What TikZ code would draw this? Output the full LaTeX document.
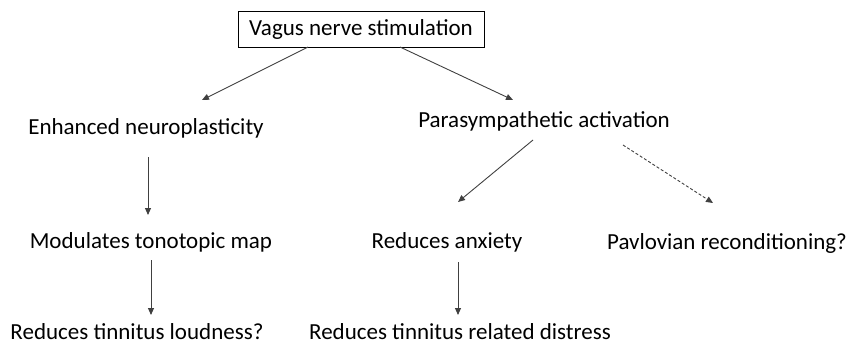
\documentclass[tikz,border=0pt]{standalone}
\usepackage{fontspec}
\setmainfont{Carlito}
\usetikzlibrary{arrows.meta}

\tikzset{
  lbl/.style={inner sep=0pt, font=\fontsize{23}{27}\selectfont},
  arr/.style={draw=black!75, line width=0.9pt, -{Triangle[length=7pt,width=6pt]}}
}

\begin{document}
\begin{tikzpicture}[x=1pt,y=-1pt]
  \useasboundingbox (0,0) rectangle (849,346);
  \node[lbl, draw, line width=1pt, minimum width=246pt, minimum height=36pt] (vns) at (361,29) {Vagus nerve stimulation};
  \node[lbl] (enh)  at (146,128) {Enhanced neuroplasticity};
  \node[lbl] (para) at (544,121) {Parasympathetic activation};
  \node[lbl] (mod)  at (151,242) {Modulates tonotopic map};
  \node[lbl] (anx)  at (447,242) {Reduces anxiety};
  \node[lbl] (pav)  at (727,243) {Pavlovian reconditioning?};
  \node[lbl] (loud) at (137,332) {Reduces tinnitus loudness?};
  \node[lbl] (dist) at (460,332) {Reduces tinnitus related distress};

  \draw[arr] ([xshift=-53pt,yshift=-18pt]vns.center) -- ([xshift=56pt,yshift=28pt]enh.center);
  \draw[arr] ([xshift=39pt,yshift=-18pt]vns.center) -- ([xshift=-31pt,yshift=21pt]para.center);
  \draw[arr] ([xshift=2pt,yshift=-29pt]enh.center) -- ([xshift=-3pt,yshift=27pt]mod.center);
  \draw[arr] ([yshift=-18pt]mod.center) -- ([xshift=14pt,yshift=17pt]loud.center);
  \draw[arr] ([xshift=-11pt,yshift=-19pt]para.center) -- ([xshift=11pt,yshift=40pt]anx.center);
  \draw[arr, densely dashed] ([xshift=79pt,yshift=-24pt]para.center) -- ([xshift=-14pt,yshift=40pt]pav.center);
  \draw[arr] ([xshift=11pt,yshift=-20pt]anx.center) -- ([xshift=-2pt,yshift=17pt]dist.center);
\end{tikzpicture}
\end{document}
